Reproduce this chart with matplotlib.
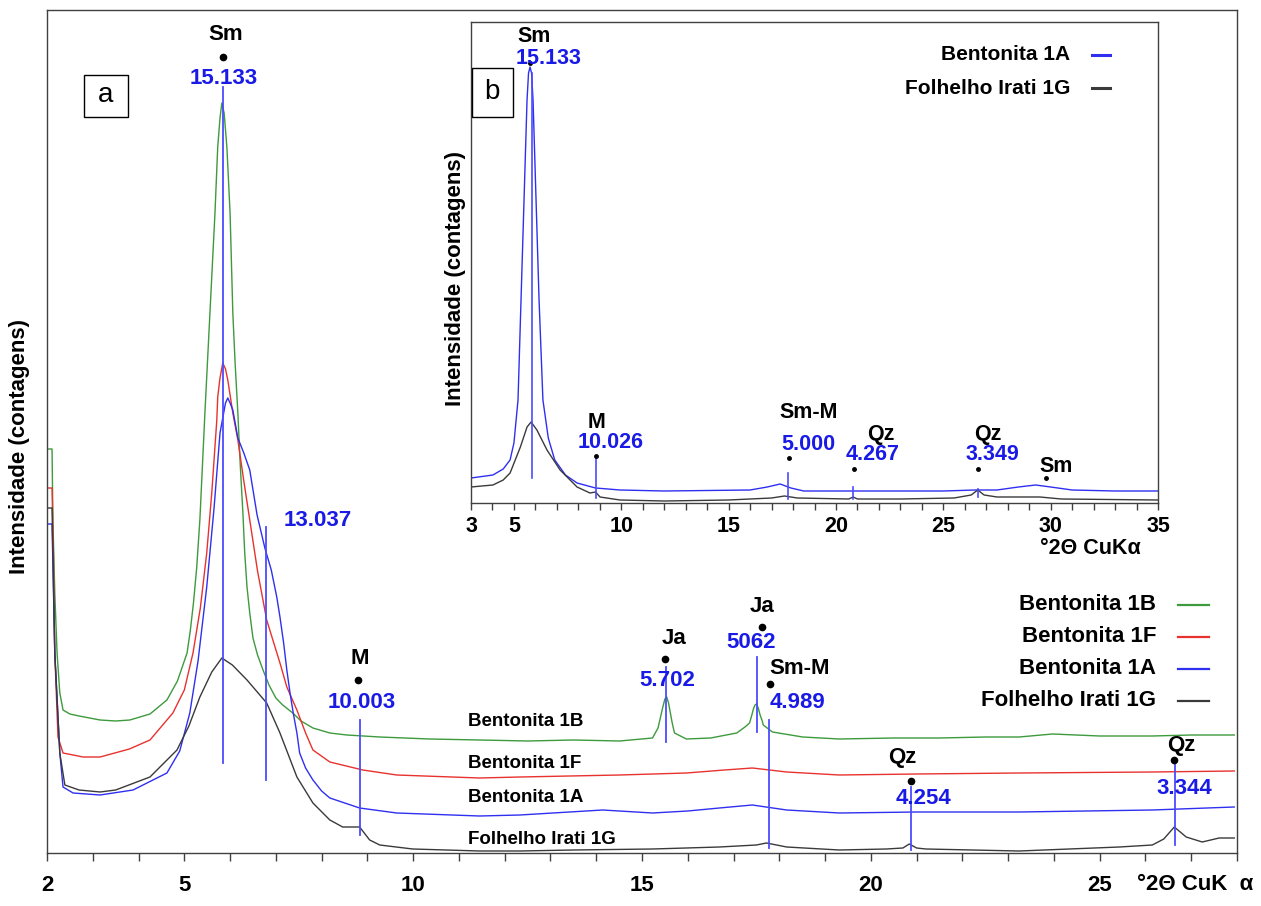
import matplotlib.pyplot as plt
from matplotlib.lines import Line2D
from matplotlib.patches import Rectangle

plt.rcParams['font.family'] = ['Liberation Sans', 'DejaVu Sans']
plt.rcParams['font.weight'] = 'bold'

W, H = 1261, 906


def fx(px):
    return px / W


def fy(py):
    return 1 - py / H


# ---- main pattern (2theta in degrees, stacked counts in arbitrary units) ----
tt_1b = [2.00, 2.11, 2.13, 2.17, 2.22, 2.28, 2.35, 2.50, 2.70, 3.16, 3.50, 3.81, 4.25, 4.62, 4.85,
         5.06, 5.13, 5.20, 5.27, 5.34, 5.45, 5.56, 5.67, 5.73, 5.78, 5.82, 5.87, 5.93, 6.00, 6.06,
         6.11, 6.17, 6.22, 6.28, 6.32, 6.37, 6.43, 6.50, 6.60, 6.72, 6.85, 7.00, 7.15, 7.37, 7.55,
         7.81, 8.18, 8.55, 9.27, 10.36, 11.45, 12.5, 13.5, 14.51, 15.23, 15.35, 15.40, 15.45, 15.50,
         15.54, 15.58, 15.62, 15.66, 15.71, 15.97, 16.50, 17.07, 17.25, 17.35, 17.40, 17.44, 17.47,
         17.50, 17.54, 17.58, 17.62, 17.65, 17.85, 18.51, 19.31, 20.50, 21.5, 22.5, 23.24, 23.97,
         25.0, 26.15, 27.0, 27.94]
int_1b = [404, 404, 330, 260, 200, 160, 143, 139, 137, 133, 132, 133, 139, 153, 172,
          200, 222, 250, 285, 333, 440, 540, 640, 706, 735, 750, 740, 706, 640, 540,
          490, 440, 390, 340, 300, 266, 240, 215, 198, 183, 168, 155, 148, 140, 132,
          125, 120, 118, 116, 114, 113, 112, 113, 112, 115, 125, 135, 145, 154,
          156, 150, 140, 130, 120, 114, 115, 120, 126, 130, 138, 145, 148,
          149, 145, 138, 133, 128, 121, 116, 114, 115, 115, 116, 116, 119,
          117, 117, 118, 118]

tt_1f = [2.00, 2.11, 2.14, 2.17, 2.24, 2.35, 2.79, 3.16, 3.80, 4.25, 4.75, 5.00, 5.19, 5.35, 5.49,
         5.60, 5.71, 5.73, 5.78, 5.84, 5.90, 5.95, 6.06, 6.17, 6.30, 6.43, 6.60, 6.80, 7.09, 7.24,
         7.46, 7.65, 7.81, 8.18, 8.90, 9.64, 11.45, 12.33, 14.51, 15.97, 16.8, 17.41, 17.6, 18.16,
         19.31, 21.0, 23.24, 26.15, 27.94]
int_1f = [365, 365, 300, 200, 116, 100, 96, 96, 104, 113, 140, 163, 200, 245, 300,
          360, 433, 456, 475, 490, 484, 473, 440, 413, 372, 333, 282, 233, 190, 166,
          143, 120, 103, 91, 83, 78, 75, 76, 78, 80, 83, 85, 84, 81,
          78, 79, 80, 81, 82]

tt_1a = [2.00, 2.11, 2.17, 2.28, 2.35, 2.57, 3.16, 3.88, 4.62, 4.90, 5.12, 5.30, 5.49, 5.65, 5.78,
         5.84, 5.90, 5.95, 6.00, 6.06, 6.17, 6.30, 6.43, 6.59, 6.76, 6.90, 7.02, 7.09, 7.17, 7.24,
         7.31, 7.38, 7.46, 7.52, 7.65, 7.81, 8.00, 8.18, 8.83, 9.64, 11.45, 12.33, 14.14, 15.23,
         16.0, 16.69, 17.41, 18.16, 19.31, 21.0, 23.24, 26.15, 27.94]
int_1a = [329, 329, 200, 100, 66, 60, 58, 63, 80, 102, 140, 192, 266, 345, 420,
          435, 450, 455, 450, 443, 415, 400, 383, 338, 305, 283, 256, 236, 210, 183,
          160, 140, 120, 100, 85, 73, 62, 55, 45, 40, 37, 38, 43, 40,
          42, 45, 48, 43, 40, 41, 41, 43, 46]

tt_1g = [2.00, 2.11, 2.17, 2.28, 2.39, 2.70, 3.16, 3.50, 4.25, 4.84, 5.10, 5.34, 5.60, 5.82, 6.05,
         6.37, 6.80, 7.09, 7.46, 7.81, 8.18, 8.46, 8.83, 9.05, 9.27, 9.99, 11.45, 12.33, 13.5,
         15.23, 16.69, 17.5, 17.72, 18.16, 19.31, 20.34, 20.70, 20.84, 21.00, 21.2, 23.24, 25.43,
         26.15, 26.40, 26.63, 26.89, 27.24, 27.61, 27.94]
int_1g = [345, 345, 200, 100, 68, 63, 61, 63, 76, 103, 127, 156, 181, 195, 188,
          173, 150, 120, 76, 50, 33, 26, 26, 13, 8, 4, 2, 2, 3,
          4, 6, 8, 10, 6, 3, 4, 5, 9, 5, 4, 2, 6,
          8, 14, 26, 16, 11, 15, 15]

samples = ["Bentonita 1B", "Bentonita 1F", "Bentonita 1A", "Folhelho Irati 1G"]
colors = ["#3d9a3d", "#e8322e", "#2f2ff0", "#3a3a3a"]

# peaks marked on the main pattern
main_phase = ["Sm", "", "M", "Ja", "Ja", "Sm-M", "Qz", "Qz"]
main_d = ["15.133", "13.037", "10.003", "5.702", "5062", "4.989", "4.254", "3.344"]
main_tt = [5.835, 6.78, 8.84, 15.53, 17.51, 17.77, 20.87, 26.64]

# ---- inset pattern ----
tt_in_1a = [3.0, 4.02, 4.5, 4.82, 5.00, 5.19, 5.33, 5.47, 5.61, 5.68, 5.75, 5.82, 5.89, 6.03, 6.17,
            6.35, 6.60, 6.90, 7.40, 7.94, 8.8, 9.94, 12.0, 16.0, 16.8, 17.4, 17.9, 18.5, 20.0, 23.0,
            25.0, 26.5, 27.5, 28.5, 29.3, 30.0, 31.0, 33.0, 35.0]
int_in_1a = [25, 28, 34, 43, 60, 103, 203, 303, 403, 430, 436, 430, 403, 303, 203,
             103, 65, 43, 28, 20, 15, 13, 12, 13, 16, 19, 15, 12, 12, 12,
             12, 13, 13, 16, 18, 16, 13, 12, 12]
tt_in_1g = [3.0, 4.02, 4.5, 4.82, 5.30, 5.61, 5.80, 6.07, 6.54, 7.15, 7.94, 8.54, 8.80, 9.01, 9.94,
            12.0, 15.0, 17.0, 17.6, 18.2, 20.6, 20.8, 21.0, 23.0, 25.5, 26.3, 26.6, 26.9, 27.5, 29.5,
            30.5, 35.0]
int_in_1g = [16, 18, 23, 30, 56, 76, 81, 73, 53, 33, 16, 10, 11, 6, 3,
             2, 3, 5, 7, 5, 4, 6, 4, 4, 5, 8, 13, 8, 6, 6,
             4, 3]

inset_phase = ["Sm", "M", "Sm-M", "Qz", "Qz", "Sm"]
inset_d = ["15.133", "10.026", "5.000", "4.267", "3.349", ""]
inset_tt = [5.835, 8.82, 17.75, 20.80, 26.60, 29.78]

BLUE_TXT = "#1a1ae6"
BLUE_LINE = "#4b4bff"
SPINE = "#404040"

fig = plt.figure(figsize=(W / 100, H / 100), dpi=100)

# ================= main axes =================
ax = fig.add_axes([fx(47), fy(853), fx(1237) - fx(47), fy(10) - fy(853)])
for tt, I, c in zip([tt_1b, tt_1f, tt_1a, tt_1g], [int_1b, int_1f, int_1a, int_1g], colors):
    ax.plot(tt, I, color=c, lw=1.0)
ax.set_xlim(2, 28)
ax.set_ylim(0, 843)
ax.set_xticks([2, 5, 10, 15, 20, 25])
ax.set_xticks(range(2, 29), minor=True)
ax.set_yticks([])
ax.tick_params(axis='x', which='both', direction='out', length=6, width=1, color=SPINE,
               labelsize=16, pad=10)
for s in ax.spines.values():
    s.set_color(SPINE)
    s.set_linewidth(1)

# marker lines (bottom, top) and label layout (name, dot, d-spacing)
main_lines = [(90, 766), (73, 326), (18, 133), (111, 186), (121, 196), (5, 133), (3, 66), (8, 90)]
main_name_pos = [(5.90, 818), None, (8.83, 195), (15.70, 215), (17.62, 246), (18.44, 184),
                 (20.69, 96), (26.78, 108)]
main_dot_pos = [(5.84, 796), None, (8.80, 173), (15.50, 194), (17.62, 226), (17.79, 169),
                (20.87, 72), (26.62, 93)]
main_d_pos = [(5.86, 775), (7.92, 333), (8.88, 151), (15.56, 172), (17.39, 210), (18.40, 151),
              (21.14, 55), (26.85, 64)]

for i in range(len(main_tt)):
    lo, hi = main_lines[i]
    ax.plot([main_tt[i], main_tt[i]], [lo, hi], color=BLUE_LINE, lw=1.3)
    if main_name_pos[i] is not None:
        ax.text(*main_name_pos[i], main_phase[i], ha='center', va='center', fontsize=16)
        ax.plot(*main_dot_pos[i], 'o', color='black', ms=4.5)
    ax.text(*main_d_pos[i], main_d[i], ha='center', va='center', fontsize=16, color=BLUE_TXT)

# sample names along the curves
for name, yv in zip(samples, [131, 90, 56, 14]):
    ax.text(11.19, yv, name, ha='left', va='center', fontsize=13.5)

# legend
for k, (name, c) in enumerate(zip(samples, colors)):
    py = 605 + 32 * k
    fig.text(fx(1156), fy(py), name, ha='right', va='center', fontsize=16)
    fig.add_artist(Line2D([fx(1178), fx(1209)], [fy(py), fy(py)], color=c, lw=1.6))

# panel label a
fig.add_artist(Rectangle((fx(84), fy(117)), fx(128) - fx(84), fy(75) - fy(117),
                         fill=False, ec='black', lw=1))
fig.text(fx(106), fy(95), "a", ha='center', va='center', fontsize=20, fontweight='normal')

fig.text(fx(20), fy(446), "Intensidade (contagens)", rotation=90, ha='center', va='center',
         fontsize=16)
fig.text(fx(1137), fy(885), "°2Θ CuK  α", ha='left', va='center', fontsize=16)

# ================= inset =================
axi = fig.add_axes([fx(471), fy(503), fx(1158) - fx(471), fy(22) - fy(503)])
axi.plot(tt_in_1a, int_in_1a, color=colors[2], lw=1.0)
axi.plot(tt_in_1g, int_in_1g, color=colors[3], lw=1.0)
axi.set_xlim(3, 35)
axi.set_ylim(0, 481)
axi.set_xticks([3, 5, 10, 15, 20, 25, 30, 35])
axi.set_xticks(range(3, 36), minor=True)
axi.set_yticks([])
axi.tick_params(axis='x', which='both', direction='out', length=5, width=1, color=SPINE,
                labelsize=15.5, pad=4)
for s in axi.spines.values():
    s.set_color(SPINE)
    s.set_linewidth(1)

inset_lines = [(25, 430), (5, 45), (4, 30), (4, 16), (6, 14), None]
inset_name_pos = [(5.93, 466), (8.87, 80), (18.74, 90), (22.10, 68), (27.08, 68), (30.25, 36)]
inset_dot_pos = [(5.75, 440), (8.82, 47), (17.81, 45), (20.84, 34), (26.61, 34), (29.78, 25)]
inset_d_pos = [(6.59, 445), (9.52, 60), (18.70, 58), (21.72, 48), (27.27, 48), None]

for i in range(len(inset_tt)):
    if inset_lines[i] is not None:
        lo, hi = inset_lines[i]
        axi.plot([inset_tt[i], inset_tt[i]], [lo, hi], color=BLUE_LINE, lw=1.2)
    axi.text(*inset_name_pos[i], inset_phase[i], ha='center', va='center', fontsize=15.5)
    axi.plot(*inset_dot_pos[i], 'o', color='black', ms=2.5)
    if inset_d_pos[i] is not None:
        axi.text(*inset_d_pos[i], inset_d[i], ha='center', va='center', fontsize=15.5,
                 color=BLUE_TXT)

for k, (name, c) in enumerate(zip(["Bentonita 1A", "Folhelho Irati 1G"], [colors[2], colors[3]])):
    py = 55 + 33 * k
    fig.text(fx(1070), fy(py), name, ha='right', va='center', fontsize=15)
    fig.add_artist(Line2D([fx(1092), fx(1110)], [fy(py), fy(py)], color=c, lw=2.2))

fig.add_artist(Rectangle((fx(472), fy(117)), fx(513) - fx(472), fy(68) - fy(117),
                         fill=False, ec='black', lw=1))
fig.text(fx(492), fy(92), "b", ha='center', va='center', fontsize=20, fontweight='normal')

fig.text(fx(455), fy(279), "Intensidade (contagens)", rotation=90, ha='center', va='center',
         fontsize=16)
fig.text(fx(1090), fy(549), "°2Θ CuKα", ha='center', va='center', fontsize=15.5)

fig.savefig("out.png", dpi=100, facecolor='white')
